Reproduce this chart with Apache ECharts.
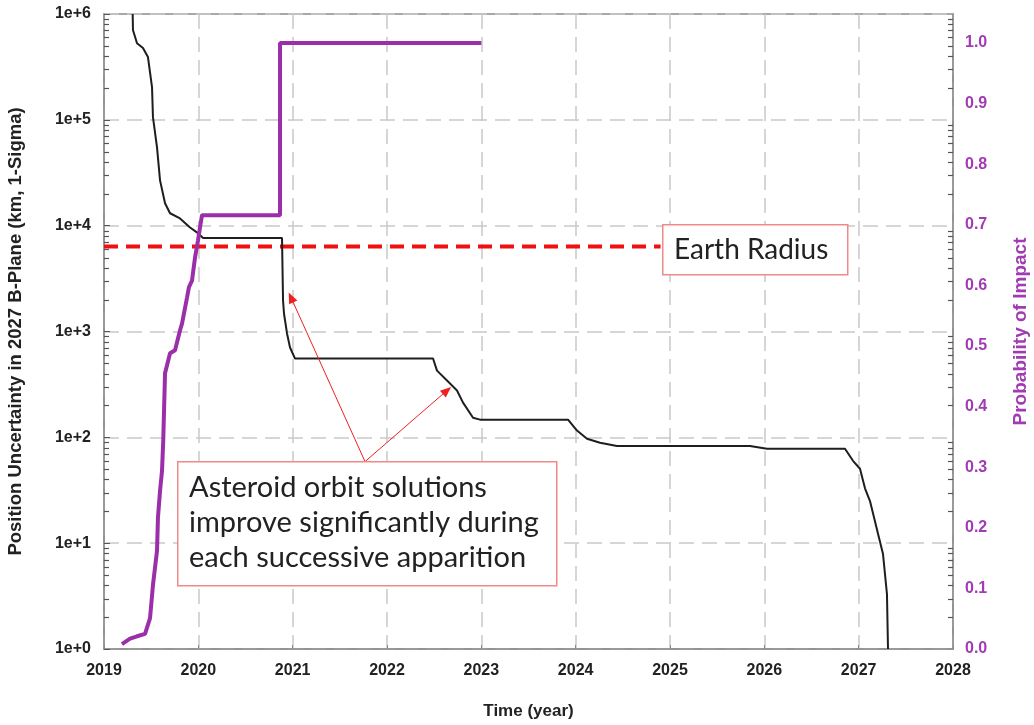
<!DOCTYPE html>
<html>
<head>
<meta charset="utf-8">
<script src="https://cdn.jsdelivr.net/npm/echarts@6/dist/echarts.min.js"></script>
<style>
  html, body { margin: 0; padding: 0; background: #ffffff; }
  #chart { width: 1034px; height: 725px; }
</style>
</head>
<body>
<div id="chart"></div>
<script>
// Position uncertainty in the 2027 B-plane (km, 1-sigma) versus time
const uncTime = [2019.304, 2019.307, 2019.35, 2019.413, 2019.466, 2019.509, 2019.519, 2019.562,
  2019.594, 2019.647, 2019.70, 2019.806, 2019.912, 2019.996, 2020.05, 2020.887,
  2020.898, 2020.908, 2020.94, 2020.972, 2021.025, 2022.488,
  2022.53, 2022.636, 2022.742, 2022.806, 2022.912, 2022.986, 2023.919,
  2024.014, 2024.12, 2024.258, 2024.438, 2025.848, 2026.028, 2026.855,
  2026.94, 2027.014, 2027.067, 2027.12, 2027.205, 2027.258, 2027.30, 2027.311];
const uncKm = [1000000, 705000, 530000, 477000, 392000, 204000, 106000, 55000,
  26800, 16300, 13100, 11700, 9600, 8500, 7650, 7650,
  1970, 1480, 958, 706, 555, 555,
  427, 344, 277, 213, 153, 147, 147,
  116, 97, 89, 83, 83, 78, 78,
  60, 50.5, 33, 25, 12.3, 7.9, 3.3, 1];

// Probability of impact versus time
const probTime = [2019.19, 2019.276, 2019.35, 2019.435, 2019.488, 2019.52, 2019.562, 2019.572,
  2019.594, 2019.615, 2019.628, 2019.647, 2019.70, 2019.753, 2019.806, 2019.827,
  2019.88, 2019.90, 2019.933, 2019.965, 2019.996, 2020.018, 2020.039, 2020.866,
  2020.866, 2023.0];
const probImpact = [0.008, 0.017, 0.021, 0.025, 0.051, 0.107, 0.162, 0.217,
  0.261, 0.294, 0.344, 0.455, 0.488, 0.493, 0.526, 0.537,
  0.58, 0.597, 0.608, 0.646, 0.674, 0.696, 0.716, 0.716,
  1.0, 1.0];

// Earth radius reference (km) and the span of the dashed line
const earthRadiusKm = 6371;
const earthRadiusSpan = [2019, 2024.9];

// Annotation arrows: shared origin and the two tips (year, km)
const arrowOrigin = [2021.767, 59];
const arrowTips = [[2020.982, 2100], [2022.636, 277]];

// Decades on the uncertainty axis and the multipliers of its minor ticks
const decadeKm = [1, 10, 100, 1000, 10000, 100000];
const minorSteps = [2, 3, 4, 5, 6, 7, 8, 9];

const tickFont = '"Liberation Sans", Arial, sans-serif';
const noteFont = 'Lato, "Open Sans", sans-serif';
const purple = '#9a2fa9';
const purpleText = '#a13bb3';
const frameGray = '#8c8c8c';
const gridDash = { color: '#c9c9c9', width: 1.5, type: [15, 8] };
const tickLen = 5;
const tickColor = '#555555';

const uncData = uncTime.map((t, i) => [t, uncKm[i]]);
const probData = probTime.map((t, i) => [t, probImpact[i]]);
const earthData = earthRadiusSpan.map(t => [t, earthRadiusKm]);

// minor tick values of the log axis (km), anchored at the start of the time axis
const timeAxisStart = 2019;
const minorTickKm = [];
decadeKm.forEach(d => minorSteps.forEach(k => minorTickKm.push([timeAxisStart, k * d])));

// short inward ticks on both vertical edges of the plot at each minor value
function renderMinorTick(params, api) {
  const cs = params.coordSys;
  const y = Math.round(api.coord([api.value(0), api.value(1)])[1]) + 0.5;
  const style = { stroke: tickColor, lineWidth: 1.2, fill: null };
  return {
    type: 'group',
    children: [
      { type: 'line', shape: { x1: cs.x, y1: y, x2: cs.x + tickLen, y2: y }, style: style },
      { type: 'line', shape: { x1: cs.x + cs.width - tickLen, y1: y, x2: cs.x + cs.width, y2: y }, style: style }
    ]
  };
}

const chart = echarts.init(document.getElementById('chart'), null, { renderer: 'canvas' });

chart.setOption({
  animation: false,
  backgroundColor: '#ffffff',
  grid: {
    left: 104, right: 81, top: 14, bottom: 76,
    outerBoundsMode: 'none', containLabel: false,
    show: true, borderColor: frameGray, borderWidth: 1.5, backgroundColor: 'transparent'
  },
  xAxis: {
    type: 'value', min: 2019, max: 2028, interval: 1,
    name: 'Time (year)', nameLocation: 'middle', nameGap: 54,
    nameTextStyle: { fontFamily: tickFont, fontWeight: 'bold', fontSize: 17, color: '#222' },
    axisLine: { show: true, lineStyle: { color: frameGray, width: 1.5 } },
    axisTick: { show: true, inside: true, length: 4, lineStyle: { color: frameGray } },
    axisLabel: { fontFamily: tickFont, fontWeight: 'bold', fontSize: 16, color: '#222', margin: 14,
      formatter: v => String(Math.round(v)) },
    splitLine: { show: true, lineStyle: gridDash }
  },
  yAxis: [
    {
      type: 'log', logBase: 10, min: 1, max: 1000000,
      position: 'left',
      name: 'Position Uncertainty in 2027 B-Plane (km, 1-Sigma)',
      nameLocation: 'middle', nameGap: 79, nameRotate: 90,
      nameTextStyle: { fontFamily: tickFont, fontWeight: 'bold', fontSize: 18.5, color: '#222' },
      axisLine: { show: true, lineStyle: { color: frameGray, width: 1.5 } },
      axisTick: { show: true, inside: true, length: 6, lineStyle: { color: tickColor } },
      axisLabel: { fontFamily: tickFont, fontWeight: 'bold', fontSize: 16, color: '#222', margin: 13,
        formatter: v => '1e+' + Math.round(Math.log10(v)) },
      splitLine: { show: true, lineStyle: gridDash }
    },
    {
      type: 'value', min: 0, max: 1.048, interval: 0.1,
      position: 'right',
      name: 'Probability of Impact',
      nameLocation: 'middle', nameGap: 58, nameRotate: 90,
      nameTextStyle: { fontFamily: tickFont, fontWeight: 'bold', fontSize: 19, color: purpleText },
      axisLine: { show: true, lineStyle: { color: frameGray, width: 1.5 } },
      axisTick: { show: false },
      axisLabel: { fontFamily: tickFont, fontWeight: 'bold', fontSize: 16, color: purpleText, margin: 12,
        formatter: v => (v > 1.0001 ? '' : v.toFixed(1)) },
      splitLine: { show: false }
    }
  ],
  series: [
    {
      name: 'Minor ticks',
      type: 'custom', xAxisIndex: 0, yAxisIndex: 0, silent: true, clip: false, z: 6,
      data: minorTickKm,
      renderItem: renderMinorTick
    },
    {
      name: 'Earth Radius',
      type: 'line', yAxisIndex: 0, data: earthData,
      symbol: 'none', silent: true, z: 3,
      lineStyle: { color: '#f01010', width: 4, type: [14, 8] }
    },
    {
      name: 'Position Uncertainty',
      type: 'line', yAxisIndex: 0, data: uncData,
      symbol: 'none', z: 4,
      lineStyle: { color: '#1e1e1e', width: 2 },
      markLine: {
        silent: true, symbol: ['none', 'triangle'], symbolSize: [9, 11],
        label: { show: false },
        lineStyle: { color: '#f02020', width: 1, type: 'solid' },
        data: arrowTips.map(tip => [{ coord: arrowOrigin }, { coord: tip }])
      }
    },
    {
      name: 'Probability of Impact',
      type: 'line', yAxisIndex: 1, data: probData,
      symbol: 'none', z: 5,
      lineStyle: { color: purple, width: 4 }
    }
  ],
  graphic: [
    {
      type: 'rect', left: 662, top: 224, z: 100,
      shape: { width: 185, height: 50 },
      style: { fill: '#ffffff', stroke: '#f08a8a', lineWidth: 1.5 }
    },
    {
      type: 'text', left: 674, top: 236, z: 101,
      style: { text: 'Earth Radius', font: '28px ' + noteFont, fill: '#222' }
    },
    {
      type: 'rect', left: 177, top: 461, z: 100,
      shape: { width: 379, height: 124 },
      style: { fill: '#ffffff', stroke: '#f08a8a', lineWidth: 1.5 }
    },
    {
      type: 'text', left: 189, top: 470, z: 101,
      style: { text: 'Asteroid orbit solutions\nimprove significantly during\neach successive apparition',
        font: '29px ' + noteFont, lineHeight: 35, fill: '#222' }
    }
  ]
});
</script>
</body>
</html>
